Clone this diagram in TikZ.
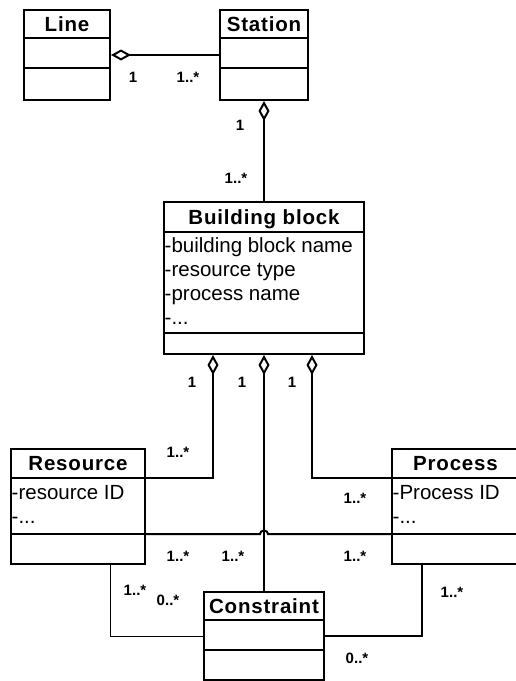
\documentclass[tikz,border=0pt]{standalone}
\usepackage{fontspec}
\setmainfont{Liberation Sans}
\newfontfamily\headfont[LetterSpace=4]{Liberation Sans}
\usetikzlibrary{arrows.meta,calc}

% A UML class box: name, north-west corner x, y, width, height,
% and the offsets of its two compartment dividers from the top edge
\newcommand{\classbox}[7]{%
  \node[cls,minimum width=#4pt,minimum height=#5pt] (#1) at (#2,#3) {};
  \draw[div] ($(#1.north west)+(0,#6)$) -- ($(#1.north east)+(0,#6)$);
  \draw[div] ($(#1.north west)+(0,#7)$) -- ($(#1.north east)+(0,#7)$);
}

\begin{document}
\begin{tikzpicture}[x=1pt,y=-1pt,
  cls/.style={draw,line width=2pt,inner sep=0pt,anchor=north west},
  div/.style={line width=2pt},
  hdr/.style={font=\headfont\fontsize{20.5}{24}\selectfont\bfseries,inner sep=0pt,anchor=base},
  attr/.style={font=\fontsize{20.5}{24}\selectfont,inner sep=0pt,anchor=base west},
  mult/.style={font=\fontsize{15}{16}\selectfont\bfseries,inner sep=0pt},
  assoc/.style={line width=2pt},
  medassoc/.style={line width=1.6pt},
  thinassoc/.style={line width=1pt},
  agg/.style={line width=2pt,{Diamond[open,length=20pt,width=11pt]}-}]

\useasboundingbox (0,0) rectangle (515,681);

% class boxes
\classbox{line}{23}{9}{86}{90}{29}{59}
\classbox{station}{219}{9}{88}{90}{29}{59}
\classbox{bb}{163}{201}{200}{152}{31}{132}
\classbox{res}{10}{448}{134}{115}{30}{86}
\classbox{proc}{391}{448}{127}{115}{30}{86}
\classbox{con}{203}{591}{120}{88}{29}{59}

% class names
\node[hdr] (line-name) at ($(line.north)+(0,22)$) {Line};
\node[hdr] (station-name) at ($(station.north)+(0,22)$) {Station};
\node[hdr] (bb-name) at ($(bb.north)+(0,23)$) {Building block};
\node[hdr] (res-name) at ($(res.north)+(0,22)$) {Resource};
\node[hdr] (proc-name) at ($(proc.north)+(0,22)$) {Process};
\node[hdr] (con-name) at ($(con.north)+(0,22)$) {Constraint};

% attributes
\node[attr] (bb-a1) at ($(bb.north west)+(1.5,51)$) {-building block name};
\node[attr] (bb-a2) at ($(bb.north west)+(1.5,75)$) {-resource type};
\node[attr] (bb-a3) at ($(bb.north west)+(1.5,99)$) {-process name};
\node[attr] (bb-a4) at ($(bb.north west)+(1.5,123)$) {-...};
\node[attr] (res-a1) at ($(res.north west)+(1.5,51)$) {-resource ID};
\node[attr] (res-a2) at ($(res.north west)+(1.5,75)$) {-...};
\node[attr] (proc-a1) at ($(proc.north west)+(1.5,51)$) {-Process ID};
\node[attr] (proc-a2) at ($(proc.north west)+(1.5,75)$) {-...};

% aggregations
\draw[agg] (line.east) -- (station.west);
\draw[agg] (station.south) -- (bb.north);
\draw[agg] ($(bb.south west)+(50,0)$) |- ($(res.north east)+(0,30)$);
\draw[agg] (bb.south) -- (bb.south |- con.north);
\draw[agg] ($(bb.south west)+(149,0)$) |- ($(proc.north west)+(0,30)$);

% associations
\draw[assoc] ($(res.north east)+(0,86)$)
  -- ($(bb.south |- res.north east)+(-4,86)$)
  arc[start angle=180,end angle=0,x radius=4pt,y radius=3.5pt]
  -- ($(proc.north west)+(0,86)$);
\draw[thinassoc] ($(res.south west)+(100.5,0)$) |- (con.west);
\draw[medassoc] ($(proc.south west)+(31,0)$) |- (con.east);

% multiplicities
\node[mult] (m1) at (133,77) {1};
\node[mult] (m2) at (188,77) {1..*};
\node[mult] (m3) at (240,125) {1};
\node[mult] (m4) at (236,178) {1..*};
\node[mult] (m5) at (192,382) {1};
\node[mult] (m6) at (242,382) {1};
\node[mult] (m7) at (292,382) {1};
\node[mult] (m8) at (178,452) {1..*};
\node[mult] (m9) at (355,498) {1..*};
\node[mult] (m10) at (178,556) {1..*};
\node[mult] (m11) at (233,556) {1..*};
\node[mult] (m12) at (355,556) {1..*};
\node[mult] (m13) at (135,590) {1..*};
\node[mult] (m14) at (168,600) {0..*};
\node[mult] (m15) at (452,592) {1..*};
\node[mult] (m16) at (357,658) {0..*};
\end{tikzpicture}
\end{document}
